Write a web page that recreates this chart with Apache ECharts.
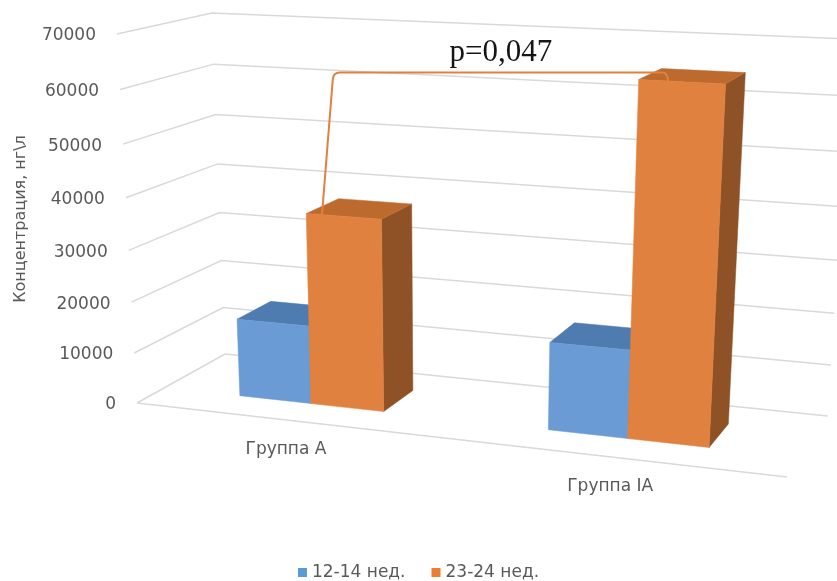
<!DOCTYPE html>
<html>
<head>
<meta charset="utf-8">
<script src="https://cdn.jsdelivr.net/npm/echarts@6/dist/echarts.min.js"></script>
<style>
  html, body { margin: 0; padding: 0; background: #ffffff; }
  #chart { width: 837px; height: 581px; }
</style>
</head>
<body>
<div id="chart"></div>
<script>
// ---- data ----
const categories = ['Группа A', 'Группа IA'];
const seriesNames = ['12-14 нед.', '23-24 нед.'];
const weeks12to14 = [15400, 16700];
const weeks23to24 = [37100, 64800];
const yTicks = [0, 10000, 20000, 30000, 40000, 50000, 60000, 70000];
const pValueText = 'p=0,047';
const axisTitle = 'Концентрация, нг\\л';

// ---- 3D box projection (perspective) ----
// unit cube: u = category direction, v = value direction, w = depth
const box = {
  o:  [137, 403],   // front-left-bottom
  ex: [787, 477],   // front-right-bottom
  ey: [117, 34],    // front-left-top
  ez: [225, 354],   // back-left-bottom
  kx: -0.108, ky: -0.06, kz: 0.0858
};
const A = [(1 + box.kx) * box.ex[0] - box.o[0], (1 + box.kx) * box.ex[1] - box.o[1]];
const B = [(1 + box.ky) * box.ey[0] - box.o[0], (1 + box.ky) * box.ey[1] - box.o[1]];
const C = [(1 + box.kz) * box.ez[0] - box.o[0], (1 + box.kz) * box.ez[1] - box.o[1]];
function project(u, v, w) {
  const d = 1 + u * box.kx + v * box.ky + w * box.kz;
  return [
    (box.o[0] + u * A[0] + v * B[0] + w * C[0]) / d,
    (box.o[1] + u * A[1] + v * B[1] + w * C[1]) / d
  ];
}

const BAR_FRONT = 0.3, BAR_BACK = 0.7, BAR_SHARE = 0.24;
const GRID_COLOR = '#d9d9d9';
const TEXT_COLOR = '#595959';
const FONT = 'DejaVu Sans';

const palettes = [
  { front: '#6a9bd5', top: '#4e7cb0', side: '#3f6a99' },
  { front: '#e0813f', top: '#bd6a2f', side: '#8f5227' }
];

function toUnit(cs, pt) {
  return [(pt[0] - cs.x) / cs.width, (cs.y + cs.height - pt[1]) / cs.height];
}

function renderWalls(params, api) {
  const cs = params.coordSys;
  const val = api.value(1);
  const v = toUnit(cs, api.coord([0, val]))[1];
  const a = project(0, v, 0), b = project(0, v, 1), c = project(1, v, 1);
  const children = [{
    type: 'polyline',
    shape: { points: [a, b, c] },
    style: { stroke: GRID_COLOR, lineWidth: 1.5, fill: null }
  }, {
    type: 'text',
    x: a[0] - 21, y: a[1] + 2,
    style: { text: String(val), fill: TEXT_COLOR, font: '17px "' + FONT + '"', align: 'right', verticalAlign: 'middle' }
  }];
  if (val === 0) {
    const f = project(1, 0, 0);
    children.push({
      type: 'line',
      shape: { x1: a[0], y1: a[1], x2: f[0], y2: f[1] },
      style: { stroke: GRID_COLOR, lineWidth: 1.5 }
    });
  }
  return { type: 'group', children };
}

function renderCategory(params, api) {
  const cs = params.coordSys;
  const idx = api.value(0);
  const u = toUnit(cs, api.coord([idx, 0]))[0];
  const p = project(u, 0, 0);
  return {
    type: 'text',
    x: p[0], y: p[1] + 30,
    style: { text: categories[idx], fill: TEXT_COLOR, font: '17px "' + FONT + '"', align: 'center', verticalAlign: 'middle' }
  };
}

function makeBarRenderer(seriesIndex) {
  const pal = palettes[seriesIndex];
  return function (params, api) {
    const cs = params.coordSys;
    const idx = api.value(0);
    const top = toUnit(cs, api.coord([idx, api.value(1)]));
    const base = toUnit(cs, api.coord([idx, 0]));
    const band = api.size([1, 0])[0] / cs.width;
    const bw = band * BAR_SHARE;
    const u0 = top[0] + (seriesIndex - 1) * bw, u1 = u0 + bw;
    const v0 = base[1], v1 = top[1];
    const w0 = BAR_FRONT, w1 = BAR_BACK;
    const poly = (pts, color) => ({
      type: 'polygon',
      shape: { points: pts.map(p => project(p[0], p[1], p[2])) },
      style: { fill: color, stroke: color, lineWidth: 0.5 }
    });
    return {
      type: 'group',
      children: [
        poly([[u1, v0, w0], [u1, v0, w1], [u1, v1, w1], [u1, v1, w0]], pal.side),
        poly([[u0, v1, w0], [u1, v1, w0], [u1, v1, w1], [u0, v1, w1]], pal.top),
        poly([[u0, v0, w0], [u1, v0, w0], [u1, v1, w0], [u0, v1, w0]], pal.front)
      ]
    };
  };
}

function renderBracket(params, api) {
  const cs = params.coordSys;
  const left = toUnit(cs, api.coord([0, weeks23to24[0]]));
  const right = toUnit(cs, api.coord([1, weeks23to24[1]]));
  const s = project(left[0] + 0.025, left[1], BAR_FRONT);
  const e = project(right[0] + 0.041, right[1], BAR_FRONT);
  s[1] += 3;
  const level = e[1] - 8.5;
  const r = 7;
  const path =
    'M' + s[0] + ' ' + s[1] +
    ' L' + (s[0] + 11) + ' ' + (level + r) +
    ' Q' + (s[0] + 11.6) + ' ' + level + ' ' + (s[0] + 18) + ' ' + level +
    ' L' + (e[0] - 6) + ' ' + level +
    ' Q' + (e[0] - 0.5) + ' ' + level + ' ' + e[0] + ' ' + e[1];
  return {
    type: 'group',
    children: [{
      type: 'path',
      shape: { pathData: path },
      style: { stroke: '#e0813f', lineWidth: 2, fill: null }
    }, {
      type: 'text',
      x: (s[0] + 18 + e[0]) / 2 - 3, y: level - 20,
      style: { text: pValueText, fill: '#151515', font: '31px "Liberation Serif"', align: 'center', verticalAlign: 'middle' }
    }]
  };
}

const chart = echarts.init(document.getElementById('chart'), null, { renderer: 'canvas' });
chart.setOption({
  animation: false,
  backgroundColor: '#ffffff',
  grid: { left: 0, right: 0, top: 0, bottom: 0 },
  xAxis: { type: 'category', data: categories, show: false },
  yAxis: { type: 'value', min: 0, max: 70000, interval: 10000, show: false },
  legend: {
    data: seriesNames,
    left: 'center',
    bottom: -5,
    icon: 'rect',
    itemWidth: 9,
    itemHeight: 9,
    itemGap: 26,
    textStyle: { color: TEXT_COLOR, fontFamily: FONT, fontSize: 17 }
  },
  graphic: [{
    type: 'text',
    x: 21, y: 219,
    rotation: Math.PI / 2,
    style: { text: axisTitle, fill: TEXT_COLOR, font: '16px "' + FONT + '"', align: 'center', verticalAlign: 'middle' }
  }],
  series: [
    { type: 'custom', name: 'walls', silent: true, renderItem: renderWalls,
      data: yTicks.map(t => [0, t]), z: 1 },
    { type: 'custom', name: 'categories', silent: true, renderItem: renderCategory,
      data: categories.map((c, i) => [i, 0]), z: 1 },
    { type: 'custom', name: seriesNames[0], silent: true, renderItem: makeBarRenderer(0),
      itemStyle: { color: '#5b9bd5' }, data: weeks12to14.map((v, i) => [i, v]), z: 2 },
    { type: 'custom', name: seriesNames[1], silent: true, renderItem: makeBarRenderer(1),
      itemStyle: { color: '#ed7d31' }, data: weeks23to24.map((v, i) => [i, v]), z: 3 },
    { type: 'custom', name: 'significance', silent: true, renderItem: renderBracket,
      data: [[0, 0]], z: 4 }
  ]
});
</script>
</body>
</html>
